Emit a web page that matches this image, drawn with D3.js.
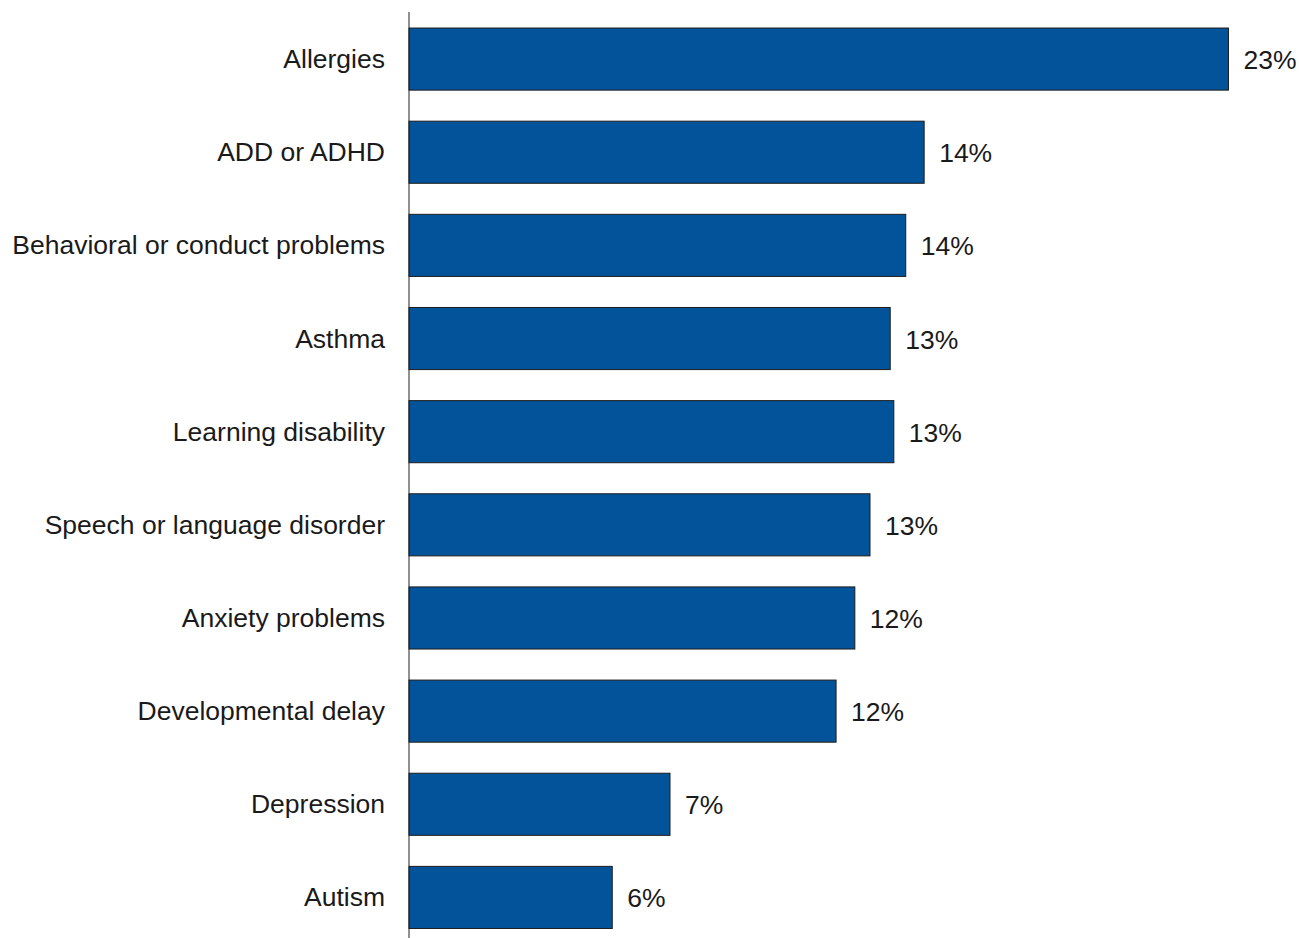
<!DOCTYPE html>
<html>
<head>
<meta charset="utf-8">
<script src="https://cdn.jsdelivr.net/npm/d3@7"></script>
<style>
  html, body { margin: 0; padding: 0; background: #fff; }
  svg { display: block; }
  text { font-family: "Liberation Sans", Arial, sans-serif; fill: #1a1a1a; }
</style>
</head>
<body>
<svg id="chart" width="1299" height="938"></svg>
<script>
// Share of children with each condition (percent)
const categories = [
  "Allergies",
  "ADD or ADHD",
  "Behavioral or conduct problems",
  "Asthma",
  "Learning disability",
  "Speech or language disorder",
  "Anxiety problems",
  "Developmental delay",
  "Depression",
  "Autism"
];
const values = [22.7, 14.27, 13.76, 13.33, 13.43, 12.77, 12.35, 11.83, 7.23, 5.63];

const svg = d3.select("#chart");
const axisX = 409;

const x = d3.scaleLinear().domain([0, 25]).range([axisX, axisX + 25 * 36.1]);
const y = d3.scaleBand()
  .domain(categories)
  .range([12.5, 944])
  .paddingInner(1 / 3)
  .paddingOuter(1 / 6);

const data = categories.map((c, i) => ({ c, v: values[i] }));

svg.selectAll("rect.bar")
  .data(data)
  .join("rect")
  .attr("class", "bar")
  .attr("x", x(0))
  .attr("y", d => y(d.c))
  .attr("width", d => x(d.v) - x(0))
  .attr("height", y.bandwidth())
  .attr("fill", "#02539a")
  .attr("stroke", "#1c1c1c")
  .attr("stroke-width", 1);

// Vertical category axis line
svg.append("line")
  .attr("x1", axisX).attr("x2", axisX)
  .attr("y1", 12).attr("y2", 938)
  .attr("stroke", "#222")
  .attr("stroke-width", 1);

// Category labels
svg.selectAll("text.cat")
  .data(data)
  .join("text")
  .attr("class", "cat")
  .attr("x", 385)
  .attr("y", d => y(d.c) + y.bandwidth() / 2 + 9)
  .attr("text-anchor", "end")
  .attr("font-size", 26.5)
  .text(d => d.c);

// Value labels
const fmt = v => d3.format(".0f")(v) + "%";
svg.selectAll("text.val")
  .data(data)
  .join("text")
  .attr("class", "val")
  .attr("x", d => x(d.v) + 15)
  .attr("y", d => y(d.c) + y.bandwidth() / 2 + 10)
  .attr("font-size", 26.5)
  .text(d => fmt(d.v));
</script>
</body>
</html>
